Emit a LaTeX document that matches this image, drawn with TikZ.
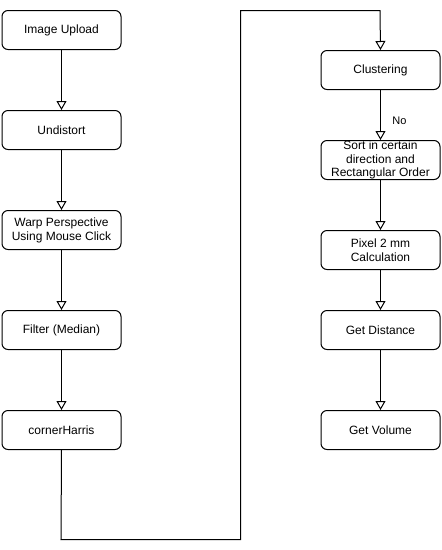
\documentclass[tikz,border=0pt]{standalone}
\usepackage{fontspec}
\setmainfont{Liberation Sans}
\usetikzlibrary{arrows.meta}
\begin{document}
\begin{tikzpicture}[x=1pt,y=-1pt,
  stepbox/.style={draw, rounded corners=6pt, line width=1pt, minimum width=119pt, minimum height=39pt, align=center, inner sep=0pt, font=\fontsize{12}{14}\selectfont, anchor=north west},
  flow/.style={draw, line width=1pt, -{Triangle[open, length=9pt, width=10pt]}}]
\useasboundingbox (0,0) rectangle (442,550);
\node[stepbox] (a) at (1.5,10) {Image Upload};
\node[stepbox] (b) at (1.5,110) {Undistort};
\node[stepbox] (c) at (1.5,210) {Warp Perspective\\Using Mouse Click};
\node[stepbox] (d) at (1.5,310) {Filter (Median)};
\node[stepbox] (e) at (1.5,410) {cornerHarris};
\node[stepbox] (f) at (320.5,50) {Clustering};
\node[stepbox, font=\fontsize{12}{13.5}\selectfont] (g) at (320.5,140) {Sort in certain\\direction and\\Rectangular Order};
\node[stepbox] (h) at (320.5,230) {Pixel 2 mm\\Calculation};
\node[stepbox] (i) at (320.5,310) {Get Distance};
\node[stepbox] (j) at (320.5,410) {Get Volume};
\coordinate (k1) at (61,539.5);
\coordinate (k2) at (240.5,539.5);
\coordinate (k3) at (240.5,10.5);
\coordinate (k4) at (380,10.5);
\draw[flow] (a) -- (b);
\draw[flow] (b) -- (c);
\draw[flow] (c) -- (d);
\draw[flow] (d) -- (e);
\draw[flow] (e.south) -- (k1) -- (k2) -- (k3) -- (k4) -- (f.north);
\draw[flow] (f) -- node[pos=0.62, right=8pt, font=\fontsize{11}{13}\selectfont] (no) {No} (g);
\draw[flow] (g) -- (h);
\draw[flow] (h) -- (i);
\draw[flow] (i) -- (j);
\end{tikzpicture}
\end{document}
